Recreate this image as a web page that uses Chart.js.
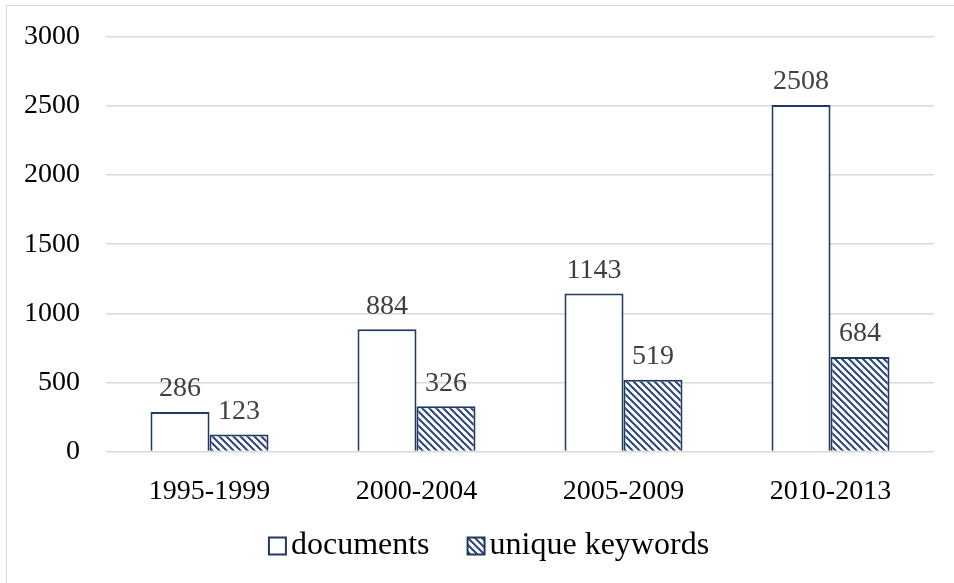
<!DOCTYPE html>
<html>
<head>
<meta charset="utf-8">
<script src="https://cdn.jsdelivr.net/npm/chart.js@4"></script>
<style>
  html, body { margin: 0; padding: 0; background: #fff; overflow: hidden; }
  #frame { position: absolute; left: 6px; top: 5px; width: 1000px; height: 700px; border: 1px solid #d9d9d9; }
  #wrap { position: absolute; left: 0; top: 0; width: 954px; height: 583px; }
</style>
</head>
<body>
<div id="frame"></div>
<div id="wrap"><canvas id="chart"></canvas></div>
<script>
const periods = ['1995-1999', '2000-2004', '2005-2009', '2010-2013']
const documents = [286, 884, 1143, 2508]
const uniqueKeywords = [123, 326, 519, 684]
const yTicks = [0, 500, 1000, 1500, 2000, 2500, 3000]

const navy = '#1f3864'
const serif = '"Liberation Serif"'

// diagonal hatch for the keyword bars
function makeHatch() {
  const s = 7
  const c = document.createElement('canvas')
  c.width = s
  c.height = s
  const g = c.getContext('2d')
  g.fillStyle = '#fff'
  g.fillRect(0, 0, s, s)
  g.strokeStyle = '#2a4479'
  g.lineWidth = 2
  g.beginPath()
  g.moveTo(-2, -2); g.lineTo(s + 2, s + 2)
  g.moveTo(-s - 2, -2); g.lineTo(2, s + 2)
  g.moveTo(s - 2, -2); g.lineTo(2 * s + 2, s + 2)
  g.stroke()
  return g.createPattern(c, 'repeat')
}
const hatch = makeHatch()

const valueLabels = {
  id: 'valueLabels',
  afterDatasetsDraw(chart) {
    const ctx = chart.ctx
    ctx.save()
    ctx.font = '28px ' + serif
    ctx.fillStyle = '#404040'
    ctx.textAlign = 'center'
    ctx.textBaseline = 'bottom'
    chart.data.datasets.forEach((ds, i) => {
      chart.getDatasetMeta(i).data.forEach((bar, j) => {
        ctx.fillText(ds.data[j], bar.x, bar.y - 9)
      })
    })
    ctx.restore()
  }
}

// legend drawn by hand so box/text spacing can follow the original
const bottomLegend = {
  id: 'bottomLegend',
  afterDraw(chart) {
    const ctx = chart.ctx
    const box = 17, gap = 5, spacing = 38
    ctx.save()
    ctx.font = '32px ' + serif
    ctx.textBaseline = 'middle'
    const items = chart.data.datasets.map(ds => ({
      text: ds.label, fill: ds.backgroundColor, stroke: ds.borderColor, w: ctx.measureText(ds.label).width
    }))
    const total = items.reduce((s, it) => s + box + gap + it.w, 0) + spacing * (items.length - 1)
    const area = chart.chartArea
    let x = (area.left + area.right) / 2 - 31 - total / 2
    const y = chart.height - 37
    items.forEach(it => {
      ctx.fillStyle = it.fill
      ctx.fillRect(x, y - box / 2, box, box)
      ctx.strokeStyle = it.stroke
      ctx.lineWidth = 2
      ctx.strokeRect(x, y - box / 2, box, box)
      ctx.fillStyle = '#000'
      ctx.fillText(it.text, x + box + gap, y)
      x += box + gap + it.w + spacing
    })
    ctx.restore()
  }
}

new Chart(document.getElementById('chart'), {
  type: 'bar',
  data: {
    labels: periods,
    datasets: [
      {
        label: 'documents',
        data: documents,
        backgroundColor: '#fff',
        borderColor: navy,
        borderWidth: 2,
        categoryPercentage: 0.57,
        barPercentage: 1
      },
      {
        label: 'unique keywords',
        data: uniqueKeywords,
        backgroundColor: hatch,
        borderColor: navy,
        borderWidth: 2,
        categoryPercentage: 0.57,
        barPercentage: 1
      }
    ]
  },
  options: {
    responsive: true,
    maintainAspectRatio: false,
    animation: false,
    layout: { padding: { left: -2, right: 20, top: 37, bottom: 60 } },
    scales: {
      x: {
        grid: { display: false },
        border: { display: false },
        ticks: { color: '#000', font: { family: 'Liberation Serif', size: 28 }, padding: 15 }
      },
      y: {
        min: 0,
        max: 3000,
        afterBuildTicks: axis => { axis.ticks = yTicks.map(v => ({ value: v })) },
        afterFit: axis => { axis.paddingTop = 0; axis.paddingBottom = 0 },
        grid: { color: '#d9d9d9', lineWidth: 1.5, drawTicks: false },
        border: { display: false },
        ticks: {
          color: '#000',
          font: { family: 'Liberation Serif', size: 28 },
          padding: 26,
          callback: v => String(v)
        }
      }
    },
    plugins: {
      tooltip: { enabled: false },
      legend: { display: false }
    }
  },
  plugins: [valueLabels, bottomLegend]
})
</script>
</body>
</html>
